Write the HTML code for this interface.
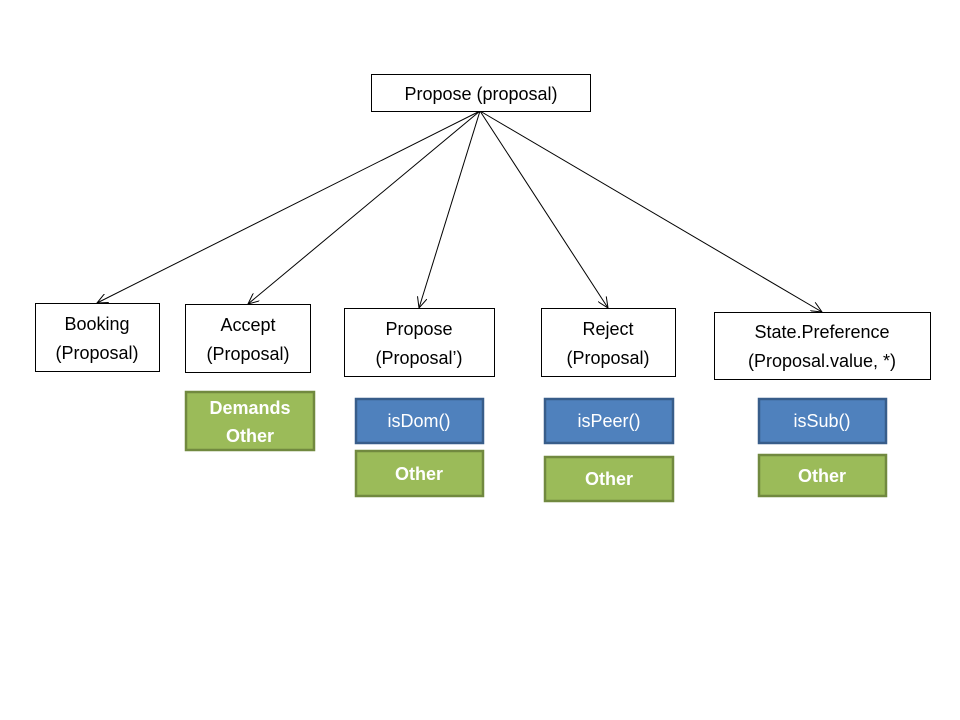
<!DOCTYPE html>
<html><head><meta charset="utf-8"><style>
html,body{margin:0;padding:0;background:#fff;}
svg{display:block;}
text{font-family:"Liberation Sans",sans-serif;font-size:18px;text-anchor:middle;}
.w{fill:#000;}
.b{fill:#fff;}
.g{fill:#fff;font-weight:bold;}
</style></head><body>
<svg width="960" height="720" viewBox="0 0 960 720" xmlns="http://www.w3.org/2000/svg">
<defs>
<marker id="a" markerWidth="12" markerHeight="10" refX="11" refY="5" orient="auto" markerUnits="userSpaceOnUse">
<path d="M0,0 L11,5 L0,10" fill="none" stroke="#000" stroke-width="1"/>
</marker>
</defs>
<g stroke="#000" stroke-width="1" fill="none" marker-end="url(#a)">
<line x1="480" y1="111" x2="97" y2="303"/>
<line x1="480" y1="111" x2="248" y2="304"/>
<line x1="480" y1="111" x2="419" y2="308"/>
<line x1="480" y1="111" x2="608" y2="308"/>
<line x1="480" y1="111" x2="822" y2="312"/>
</g>
<g fill="#fff" stroke="#000" stroke-width="1">
<rect x="371.5" y="74.5" width="219" height="37"/>
<rect x="35.5" y="303.5" width="124" height="68"/>
<rect x="185.5" y="304.5" width="125" height="68"/>
<rect x="344.5" y="308.5" width="150" height="68"/>
<rect x="541.5" y="308.5" width="134" height="68"/>
<rect x="714.5" y="312.5" width="216" height="67"/>
</g>
<text class="w" x="481" y="100">Propose (proposal)</text>
<text class="w" x="97" y="330">Booking</text><text class="w" x="97" y="359">(Proposal)</text>
<text class="w" x="248" y="331">Accept</text><text class="w" x="248" y="360">(Proposal)</text>
<text class="w" x="419" y="335">Propose</text><text class="w" x="419" y="364">(Proposal’)</text>
<text class="w" x="608" y="335">Reject</text><text class="w" x="608" y="364">(Proposal)</text>
<text class="w" x="822" y="338">State.Preference</text><text class="w" x="822" y="367">(Proposal.value, *)</text>
<g stroke-width="2.5">
<rect x="186" y="392" width="128" height="58" fill="#9bbb59" stroke="#71893f"/>
<rect x="356" y="399" width="127" height="44" fill="#4f81bd" stroke="#385d8a"/>
<rect x="356" y="451" width="127" height="45" fill="#9bbb59" stroke="#71893f"/>
<rect x="545" y="399" width="128" height="44" fill="#4f81bd" stroke="#385d8a"/>
<rect x="545" y="457" width="128" height="44" fill="#9bbb59" stroke="#71893f"/>
<rect x="759" y="399" width="127" height="44" fill="#4f81bd" stroke="#385d8a"/>
<rect x="759" y="455" width="127" height="41" fill="#9bbb59" stroke="#71893f"/>
</g>
<text class="g" x="250" y="414">Demands</text><text class="g" x="250" y="442">Other</text>
<text class="b" x="419" y="427">isDom()</text>
<text class="g" x="419" y="480">Other</text>
<text class="b" x="609" y="427">isPeer()</text>
<text class="g" x="609" y="485">Other</text>
<text class="b" x="822" y="427">isSub()</text>
<text class="g" x="822" y="482">Other</text>
</svg>
</body></html>
